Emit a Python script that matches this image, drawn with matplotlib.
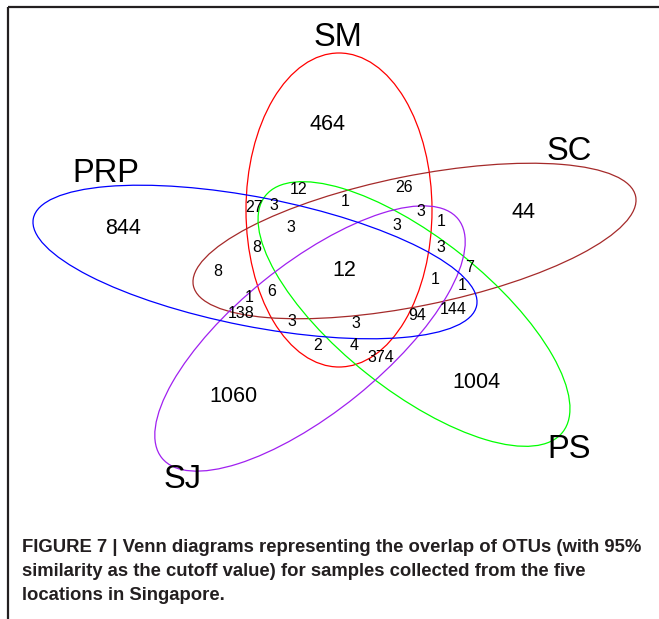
import numpy as np
import matplotlib.pyplot as plt
from matplotlib.patches import Ellipse

plt.rcParams['font.family'] = ['Liberation Sans', 'DejaVu Sans']

# figure size in pixels (dpi = 100)
W, H = 659, 619

# the five sampling locations
set_names = ["SM", "SC", "PS", "SJ", "PRP"]
set_colors = ["#FF0000", "#A52A2A", "#00FF00", "#A020F0", "#0000FF"]

# OTUs found only at one location (same order as set_names), then shared by all five
unique_counts = [464, 44, 1004, 1060, 844]
all_five_count = 12

# OTUs in the remaining overlap regions
overlap_counts = [27, 3, 12, 1, 26, 3, 1, 3, 3, 8, 3, 8, 7,
                  6, 1, 1, 1, 138, 144, 94, 3, 3, 2, 4, 374]

# ---- layout (pixel coordinates, y downwards) ----
# ellipse: centre, semi-major, semi-minor, angle of major axis
ellipse_geom = [
    ((339.0, 210.0), 157.0, 93.0, 90.0),    # SM
    ((414.5, 241.0), 225.6, 65.0, -11.4),   # SC
    ((414.0, 314.0), 189.9, 76.0, 38.5),    # PS
    ((310.0, 338.5), 190.3, 74.0, -38.9),   # SJ
    ((255.0, 262.0), 225.9, 64.5, 11.1),    # PRP
]
set_label_xy = [(338, 37), (569, 152), (569, 450), (183, 480), (106, 173)]
unique_xy = [(328, 124), (524, 213), (476, 383), (233, 396), (123, 229)]
all_five_xy = (344, 270)
overlap_xy = [(254, 207), (274, 205), (299, 189), (345, 201), (404, 188),
              (421, 212), (441, 222), (291, 227), (397, 226), (257, 248),
              (441, 247), (218, 272), (470, 268), (272, 292), (435, 280),
              (249, 298), (462, 285), (241, 314), (453, 309), (417, 316),
              (292, 321), (356, 323), (318, 346), (354, 345), (381, 358)]

caption_lines = [
    "FIGURE 7 | Venn diagrams representing the overlap of OTUs (with 95%",
    "similarity as the cutoff value) for samples collected from the five",
    "locations in Singapore.",
]

fig = plt.figure(figsize=(W / 100, H / 100), dpi=100)
ax = fig.add_axes([0, 0, 1, 1])
ax.set_xlim(0, W)
ax.set_ylim(H, 0)
ax.axis('off')

# partial frame (top and left) like the journal page
ax.plot([8, W], [6.5, 6.5], color='#231f20', lw=1.6, solid_capstyle='butt')
ax.plot([8, 8], [6.5, H], color='#231f20', lw=1.6, solid_capstyle='butt')

for (c, a, b, ang), col in zip(ellipse_geom, set_colors):
    ax.add_patch(Ellipse(c, 2 * a, 2 * b, angle=ang, fill=False,
                         edgecolor=col, lw=0.9))

for name, (x, y) in zip(set_names, set_label_xy):
    ax.text(x, y, name, fontsize=23.5, ha='center', va='center')

for n, (x, y) in zip(unique_counts, unique_xy):
    ax.text(x, y, str(n), fontsize=15.5, ha='center', va='center')
ax.text(*all_five_xy, str(all_five_count), fontsize=15.5, ha='center', va='center')

for n, (x, y) in zip(overlap_counts, overlap_xy):
    ax.text(x, y, str(n), fontsize=11.5, ha='center', va='center')

for i, line in enumerate(caption_lines):
    ax.text(22, 547 + 24 * i, line, fontsize=13.3, fontweight='bold',
            color='#231f20', ha='left', va='center')

fig.savefig("out.png", dpi=100)
